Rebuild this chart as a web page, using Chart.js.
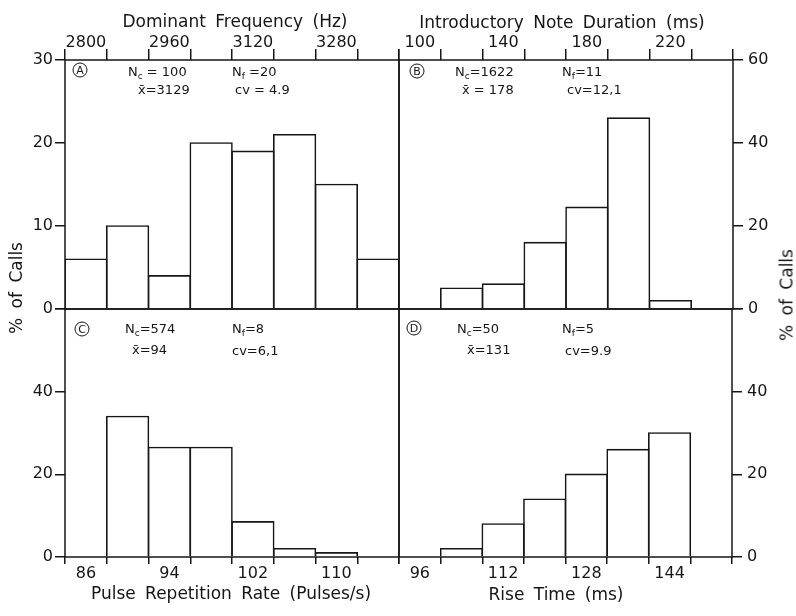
<!DOCTYPE html>
<html>
<head>
<meta charset="utf-8">
<script src="https://cdn.jsdelivr.net/npm/chart.js@4"></script>
<style>
html,body{margin:0;padding:0;background:#fff;}
#wrap{position:relative;width:796px;height:616px;overflow:hidden;font-family:"DejaVu Sans",sans-serif;color:#161616;}
canvas{position:absolute;left:0;top:0;}
.ttl{position:absolute;white-space:nowrap;line-height:1;font-size:17px;transform:translate(-50%,-50%);word-spacing:4px;}
.vt{position:absolute;white-space:nowrap;line-height:1;font-size:17px;transform:translate(-50%,-50%) rotate(-90deg);word-spacing:4px;}
.ann{position:absolute;white-space:nowrap;line-height:1;font-size:13px;transform:translateY(-50%);}
.ann sub{font-size:9px;vertical-align:-3px;line-height:0;}
.circ{position:absolute;width:13px;height:13px;border:1.5px solid #161616;border-radius:50%;font-size:11px;line-height:13px;text-align:center;transform:translate(-50%,-50%);}
</style>
</head>
<body>
<div id="wrap">
<canvas id="cA" width="796" height="616"></canvas>
<canvas id="cB" width="796" height="616"></canvas>
<canvas id="cC" width="796" height="616"></canvas>
<canvas id="cD" width="796" height="616"></canvas>

<div class="ttl" style="left:235px;top:21px;">Dominant Frequency (Hz)</div>
<div class="ttl" style="left:562px;top:22px;">Introductory Note Duration (ms)</div>
<div class="ttl" style="left:231px;top:593px;">Pulse Repetition Rate (Pulses/s)</div>
<div class="ttl" style="left:556px;top:594px;">Rise Time (ms)</div>
<div class="vt" style="left:16px;top:288px;">% of Calls</div>
<div class="vt" style="left:787px;top:295px;">% of Calls</div>

<div class="circ" style="left:80px;top:70px;">A</div>
<div class="ann" style="left:128px;top:71px;">N<sub>c</sub> = 100</div>
<div class="ann" style="left:138px;top:89px;">x̄=3129</div>
<div class="ann" style="left:232px;top:71px;">N<sub>f</sub> =20</div>
<div class="ann" style="left:235px;top:89px;">cv = 4.9</div>

<div class="circ" style="left:417px;top:71px;">B</div>
<div class="ann" style="left:455px;top:71px;">N<sub>c</sub>=1622</div>
<div class="ann" style="left:462px;top:89px;">x̄ = 178</div>
<div class="ann" style="left:562px;top:71px;">N<sub>f</sub>=11</div>
<div class="ann" style="left:567px;top:89px;">cv=12,1</div>

<div class="circ" style="left:82px;top:329px;">C</div>
<div class="ann" style="left:125px;top:328px;">N<sub>c</sub>=574</div>
<div class="ann" style="left:132px;top:349px;">x̄=94</div>
<div class="ann" style="left:232px;top:328px;">N<sub>f</sub>=8</div>
<div class="ann" style="left:232px;top:350px;">cv=6,1</div>

<div class="circ" style="left:414px;top:328px;">D</div>
<div class="ann" style="left:457px;top:328px;">N<sub>c</sub>=50</div>
<div class="ann" style="left:467px;top:349px;">x̄=131</div>
<div class="ann" style="left:562px;top:328px;">N<sub>f</sub>=5</div>
<div class="ann" style="left:565px;top:350px;">cv=9.9</div>
</div>

<script>
// ---- data (bin start labels and % of calls per bin) ----
const freqBins = ['2800','2880','2960','3040','3120','3200','3280','3360'];
const freqPct  = [6, 10, 4, 20, 19, 21, 15, 6];

const durBins  = ['100','120','140','160','180','200','220','240'];
const durPct   = [0, 5, 6, 16, 24.5, 46, 2, 0];

const rateBins = ['86','90','94','98','102','106','110','114'];
const ratePct  = [0, 34, 26.5, 26.5, 8.5, 2, 1, 0];

const riseBins = ['96','104','112','120','128','136','144','152'];
const risePct  = [0, 2, 8, 14, 20, 26, 30, 0];

const freqTicks = ['2800','2960','3120','3280'];
const durTicks  = ['100','140','180','220'];
const rateTicks = ['86','94','102','110'];
const riseTicks = ['96','112','128','144'];

const INK = '#161616';
const FONT = {family: '"DejaVu Sans", sans-serif', size: 16};
const LW = 1.5;

const boxPlugin = {
  id: 'box',
  afterDatasetsDraw(chart) {
    const {ctx, chartArea: a} = chart;
    ctx.save();
    ctx.strokeStyle = INK;
    ctx.lineWidth = LW;
    ctx.strokeRect(a.left, a.top, a.right - a.left, a.bottom - a.top);
    ctx.restore();
  }
};

function panel(id, bins, values, shown, c) {
  return new Chart(document.getElementById(id), {
    type: 'bar',
    data: {
      labels: bins,
      datasets: [{
        data: values,
        backgroundColor: 'rgba(255,255,255,0)',
        borderColor: INK,
        borderWidth: 0.1,
        borderSkipped: 'start',
        inflateAmount: 0.75,
        categoryPercentage: 1,
        barPercentage: 1
      }]
    },
    options: {
      responsive: false,
      animation: false,
      devicePixelRatio: 1,
      layout: {padding: c.pad},
      plugins: {legend: {display: false}, tooltip: {enabled: false}},
      scales: {
        x: {
          type: 'category',
          position: c.xPos,
          offset: true,
          grid: {offset: true, drawOnChartArea: false, drawTicks: true, tickLength: c.xTick, color: INK, lineWidth: LW},
          border: {display: false},
          ticks: {
            autoSkip: false, maxRotation: 0, minRotation: 0, padding: c.xPad, color: INK, font: FONT,
            callback: (v, i) => shown.includes(bins[i]) ? bins[i] : ''
          },
          afterFit: s => { s.height = c.xH; }
        },
        y: {
          type: 'linear',
          position: c.yPos,
          min: 0, max: c.max,
          grid: {drawOnChartArea: false, drawTicks: true, tickLength: 10, color: INK, lineWidth: LW},
          border: {display: false},
          ticks: {
            stepSize: c.step, padding: c.yPad, color: INK, font: FONT,
            callback: v => (c.hide === v ? '' : String(v))
          },
          afterFit: s => { s.width = c.yW; }
        }
      }
    },
    plugins: [boxPlugin]
  });
}

// Panel A: Dominant frequency
panel('cA', freqBins, freqPct, freqTicks, {
  pad: {left: 0, top: 0, right: 397, bottom: 307},
  xPos: 'top', xTick: 11, xPad: -3, xH: 60,
  yPos: 'left', yW: 65, yPad: 2, max: 30, step: 10, hide: null
});
// Panel B: Introductory note duration
panel('cB', durBins, durPct, durTicks, {
  pad: {left: 399, top: 0, right: 0, bottom: 307},
  xPos: 'top', xTick: 11, xPad: -3, xH: 60,
  yPos: 'right', yW: 63, yPad: 5, max: 60, step: 20, hide: null
});
// Panel C: Pulse repetition rate
panel('cC', rateBins, ratePct, rateTicks, {
  pad: {left: 0, top: 309, right: 397, bottom: 0},
  xPos: 'bottom', xTick: 7, xPad: 0, xH: 59,
  yPos: 'left', yW: 65, yPad: 2, max: 60, step: 20, hide: 60
});
// Panel D: Rise time
panel('cD', riseBins, risePct, riseTicks, {
  pad: {left: 399, top: 309, right: 0, bottom: 0},
  xPos: 'bottom', xTick: 7, xPad: 0, xH: 59,
  yPos: 'right', yW: 64, yPad: 5, max: 60, step: 20, hide: 60
});
</script>
</body>
</html>
